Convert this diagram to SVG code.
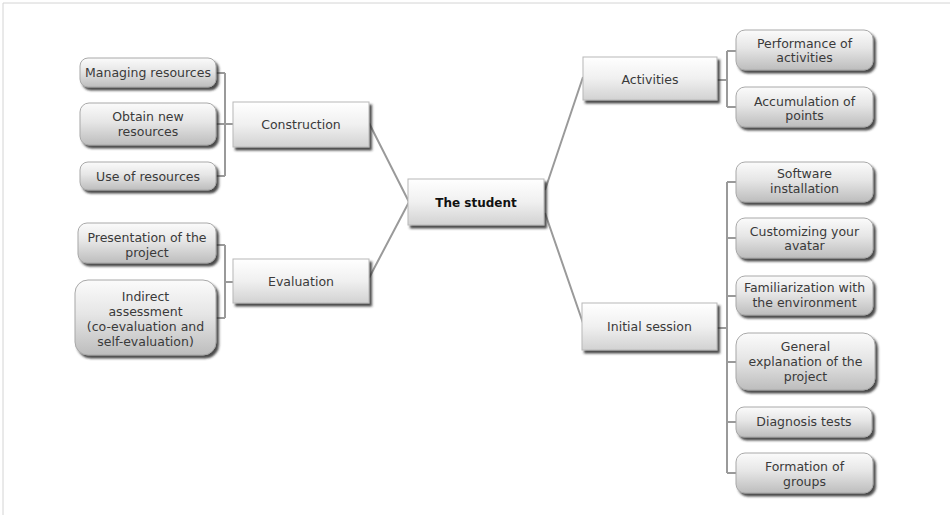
<svg xmlns="http://www.w3.org/2000/svg" width="950" height="515" viewBox="0 0 950 515">
<defs>
<linearGradient id="gChild" x1="0" y1="0" x2="0" y2="1">
<stop offset="0" stop-color="#fbfbfb"/>
<stop offset="0.45" stop-color="#e6e6e6"/>
<stop offset="1" stop-color="#bdbdbd"/>
</linearGradient>
<linearGradient id="gParent" x1="0" y1="0" x2="0" y2="1">
<stop offset="0" stop-color="#ffffff"/>
<stop offset="0.5" stop-color="#f0f0f0"/>
<stop offset="1" stop-color="#d2d2d2"/>
</linearGradient>
<filter id="sh" x="-10%" y="-20%" width="125%" height="150%">
<feDropShadow dx="2.5" dy="3" stdDeviation="1" flood-color="#2a2a2a" flood-opacity="0.85"/>
</filter>
</defs>
<style>
.child{fill:url(#gChild);stroke:#a8a8a8;stroke-width:1;filter:url(#sh)}
.parent{fill:url(#gParent);stroke:#b8b8b8;stroke-width:1;filter:url(#sh)}
.t{font-family:"DejaVu Sans",Verdana,sans-serif;font-size:12.5px;fill:#3a3a3a;text-anchor:middle}
.tb{font-family:"DejaVu Sans",Verdana,sans-serif;font-size:12px;font-weight:bold;fill:#111;text-anchor:middle}
.conn{fill:none;stroke:#9a9a9a;stroke-width:2}
</style>
<rect width="950" height="515" fill="#ffffff"/>
<path d="M3,515 V3 H950" fill="none" stroke="#d4d4d4" stroke-width="1"/>

<g id="connectors">
<path class="conn" d="M216,73 H225 M216,124 H233 M216,176 H225 M225,73 V176"/>
<path class="conn" d="M216,245 H225 M216,318 H225 M225,245 V318 M225,282 H233"/>
<path class="conn" d="M717,80 H727 M727,51 V107 M727,51 H736 M727,107 H736"/>
<path class="conn" d="M717,328 H727 M727,182 V473 M727,182 H736 M727,238 H736 M727,296 H736 M727,362 H736 M727,422 H736 M727,473 H736"/>
<path class="conn" d="M369,123 L409,202 L369,278"/>
<path class="conn" d="M583,77 L545,190 M545,213 L583,323"/>
</g>

<g id="student">
<rect class="parent" x="408" y="179" width="136" height="46"/>
<text class="tb" x="476" y="206.5">The student</text>
</g>

<g id="construction">
<rect class="parent" x="233" y="102" width="136" height="45"/>
<text class="t" x="301" y="129">Construction</text>
</g>
<g id="evaluation">
<rect class="parent" x="233" y="259" width="136" height="44"/>
<text class="t" x="301" y="285.5">Evaluation</text>
</g>
<g id="activities">
<rect class="parent" x="583" y="57" width="134" height="43"/>
<text class="t" x="650" y="83.5">Activities</text>
</g>
<g id="initial-session">
<rect class="parent" x="582" y="303" width="135" height="47"/>
<text class="t" x="649.5" y="330.5">Initial session</text>
</g>

<g id="managing-resources">
<rect class="child" x="80" y="58" width="136" height="29" rx="8"/>
<text class="t" x="148" y="77">Managing resources</text>
</g>
<g id="obtain-new-resources">
<rect class="child" x="80" y="103" width="136" height="42" rx="9"/>
<text class="t" x="148" y="121">Obtain new</text>
<text class="t" x="148" y="136">resources</text>
</g>
<g id="use-of-resources">
<rect class="child" x="80" y="162" width="136" height="28" rx="8"/>
<text class="t" x="148" y="180.5">Use of resources</text>
</g>
<g id="presentation">
<rect class="child" x="78" y="223" width="138" height="40" rx="9"/>
<text class="t" x="147" y="242">Presentation of the</text>
<text class="t" x="147" y="256.5">project</text>
</g>
<g id="indirect-assessment">
<rect class="child" x="75" y="280" width="141" height="75" rx="13"/>
<text class="t" x="145.5" y="301">Indirect</text>
<text class="t" x="145.5" y="315.5">assessment</text>
<text class="t" x="145.5" y="330.5">(co-evaluation and</text>
<text class="t" x="145.5" y="345.5">self-evaluation)</text>
</g>

<g id="performance">
<rect class="child" x="736" y="30" width="137" height="40" rx="9"/>
<text class="t" x="804.5" y="47.5">Performance of</text>
<text class="t" x="804.5" y="62">activities</text>
</g>
<g id="accumulation">
<rect class="child" x="736" y="87" width="137" height="40" rx="9"/>
<text class="t" x="804.5" y="105.5">Accumulation of</text>
<text class="t" x="804.5" y="120">points</text>
</g>
<g id="software-installation">
<rect class="child" x="736" y="162" width="137" height="40" rx="9"/>
<text class="t" x="804.5" y="178">Software</text>
<text class="t" x="804.5" y="192.5">installation</text>
</g>
<g id="customizing-avatar">
<rect class="child" x="736" y="218" width="137" height="40" rx="9"/>
<text class="t" x="804.5" y="235.5">Customizing your</text>
<text class="t" x="804.5" y="250">avatar</text>
</g>
<g id="familiarization">
<rect class="child" x="736" y="276" width="137" height="39" rx="9"/>
<text class="t" x="804.5" y="292">Familiarization with</text>
<text class="t" x="804.5" y="307">the environment</text>
</g>
<g id="general-explanation">
<rect class="child" x="736" y="333" width="139" height="57" rx="12"/>
<text class="t" x="805.5" y="350.5">General</text>
<text class="t" x="805.5" y="366">explanation of the</text>
<text class="t" x="805.5" y="381">project</text>
</g>
<g id="diagnosis-tests">
<rect class="child" x="736" y="407" width="136" height="30" rx="8"/>
<text class="t" x="804" y="426">Diagnosis tests</text>
</g>
<g id="formation-groups">
<rect class="child" x="736" y="453" width="137" height="40" rx="9"/>
<text class="t" x="804.5" y="470.5">Formation of</text>
<text class="t" x="804.5" y="485.5">groups</text>
</g>
</svg>
